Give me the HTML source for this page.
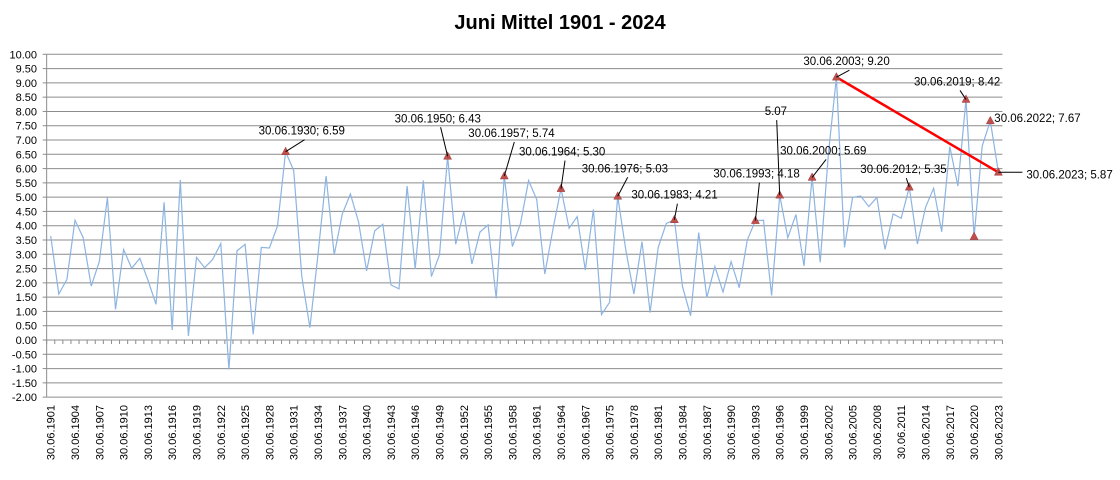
<!DOCTYPE html>
<html><head><meta charset="utf-8"><style>
body{margin:0;background:#fff;width:1120px;height:475px;overflow:hidden}
svg{font-family:"Liberation Sans",sans-serif}
</style></head><body>
<svg id="chart" width="1120" height="475" viewBox="0 0 1120 475">
<text x="560" y="29" text-anchor="middle" font-size="20" font-weight="bold" fill="#000">Juni Mittel 1901 - 2024</text>
<g id="grid"></g><g id="axes"></g><g id="series"></g><g id="marks"></g><g id="labels"></g>
</svg>
<script>
const years = [];
for (let y = 1901; y <= 1967; y++) years.push(y);
for (let y = 1973; y <= 2023; y++) years.push(y);
const values = [3.64,1.61,2.12,4.19,3.59,1.89,2.74,4.98,1.07,3.17,2.51,2.86,2.10,1.25,4.82,0.35,5.60,0.14,2.89,2.53,2.82,3.38,-1.03,3.12,3.35,0.20,3.24,3.22,3.99,6.59,
5.93,2.22,0.43,3.0,5.74,2.98,4.41,5.11,4.14,2.42,3.82,4.05,1.93,1.79,5.39,2.49,5.58,2.22,2.98,6.43,3.35,4.49,2.66,3.78,
4.03,1.46,5.74,3.27,4.08,5.58,4.92,2.31,3.87,5.30,3.91,4.32,2.45,4.57,0.89,1.32,5.03,3.15,1.61,3.44,0.96,3.24,4.08,
4.21,1.87,0.85,3.76,1.49,2.57,1.68,2.74,1.83,3.50,4.18,4.19,1.56,5.07,3.58,4.39,2.59,5.69,2.72,6.48,9.20,
3.24,4.99,5.04,4.67,4.99,3.17,4.41,4.26,5.35,3.36,4.64,5.31,3.79,6.77,5.39,8.42,3.62,6.79,7.67,5.87];
const yTicks = [-2,-1.5,-1,-0.5,0,0.5,1,1.5,2,2.5,3,3.5,4,4.5,5,5.5,6,6.5,7,7.5,8,8.5,9,9.5,10];
const markerYears = [1930,1950,1957,1964,1976,1983,1993,1996,2000,2003,2012,2019,2020,2022,2023];
const labelTexts = ["30.06.1930; 6.59","30.06.1950; 6.43","30.06.1957; 5.74","30.06.1964; 5.30","30.06.1976; 5.03","30.06.1983; 4.21","30.06.1993; 4.18","5.07","30.06.2000; 5.69","30.06.2003; 9.20","30.06.2012; 5.35","30.06.2019; 8.42","","30.06.2022; 7.67","30.06.2023; 5.87"];
const trendYears = [2003,2023];

const NS="http://www.w3.org/2000/svg";
const step=8.1, x0=50.7;
const X=i=>x0+step*i;
const Y=v=>340-v*28.57;
function mk(tag,attrs,parent){const e=document.createElementNS(NS,tag);for(const k in attrs)e.setAttribute(k,attrs[k]);document.getElementById(parent).appendChild(e);return e;}
const left=x0-step/2, right=x0+step*(years.length-0.5);

yTicks.forEach(v=>{
  const g=mk('line',{x1:left,x2:right,y1:Y(v),y2:Y(v),stroke:'#8c8c8c','stroke-width':1},'grid');
  
  
  const t=mk('text',{x:37,y:Y(v)+4,'text-anchor':'end','font-size':11,fill:'#000'},'axes');
  
  
  t.textContent=v.toFixed(2);
  mk('line',{x1:left-4,x2:left,y1:Y(v),y2:Y(v),stroke:'#8c8c8c'},'axes');
});
const ya=mk('line',{x1:left,x2:left,y1:Y(10),y2:Y(-2),stroke:'#8c8c8c'},'axes');


for(let k=0;k<=years.length;k++){mk('line',{x1:left+k*step,x2:left+k*step,y1:Y(0),y2:Y(0)+4,stroke:'#8c8c8c'},'axes');}
years.forEach((yr,i)=>{
  if(i%3!==0)return;
  const t=mk('text',{x:0,y:0,'text-anchor':'end','font-size':11,fill:'#000',transform:`translate(${X(i)+4},405) rotate(-90)`},'axes');
  
  
  t.textContent='30.06.'+yr;
});
const line=mk('polyline',{points:values.map((v,i)=>X(i)+','+Y(v)).join(' '),fill:'none',stroke:'#8db4e2','stroke-width':1.2},'series');


const ti=trendYears.map(y=>years.indexOf(y));
const tr=mk('line',{x1:X(ti[0]),y1:Y(values[ti[0]]),x2:X(ti[1]),y2:Y(values[ti[1]]),stroke:'#ff0000','stroke-width':2.5},'series');


const lo=[[-27,-17],[-53,-34],[-36,-39],[-42,-33],[-36,-24],[-43,-21],[-42,-43],[-15,-80],[-32,-23],[-33,-12],[-49,-14],[-52,-14],[0,0],[4,1],[28,6]];
markerYears.forEach((yr,j)=>{
  const i=years.indexOf(yr), px=X(i), py=Y(values[i]);
  const m=mk('polygon',{points:`${px},${py-4.5} ${px-4},${py+3} ${px+4},${py+3}`,fill:'#c0504d',stroke:'#a03c3a','stroke-width':0.5},'marks');
  
  
  if(!labelTexts[j])return;
  const [dx,dy]=lo[j];
  const t=mk('text',{x:px+dx,y:py+dy,'font-size':11.5,fill:'#000'},'labels');
  
  
  t.textContent=labelTexts[j];
  if(j===13)return;
  let lx,ly;
  if(j===14){lx=px+24;ly=py;}
  else{lx=px+dx+(labelTexts[j].length>5?46:12);ly=py+dy+5;}
  const l=mk('line',{x1:lx,y1:ly,x2:px,y2:py,stroke:'#000','stroke-width':1},'labels');
  
  
});
</script>
</body></html>
